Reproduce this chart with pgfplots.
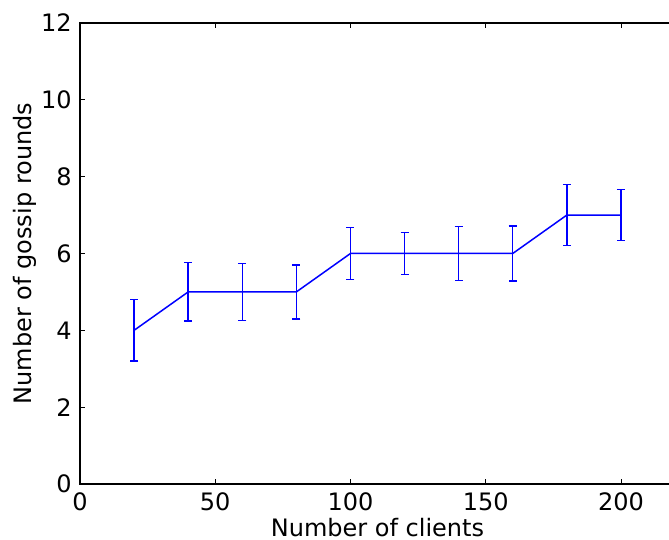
\documentclass[border=0pt]{standalone}
\usepackage{fontspec}
\setmainfont{DejaVu Sans}
\usepackage{pgfplots}
\pgfplotsset{compat=1.18}

\begin{document}
\fontsize{12}{14}\selectfont
\begin{tikzpicture}
\begin{axis}[
  name=main, at={(0,0)}, anchor=south west,
  scale only axis, width=297.5pt, height=230.5pt,
  xmin=0, xmax=220, ymin=0, ymax=12,
  xtick={0,50,100,150,200}, ytick={0,2,4,6,8,10,12},
  tick align=inside, major tick length=2.5pt,
  tick style={black, line width=0.4pt},
  axis line style={line width=0.6pt},
  /pgf/number format/assume math mode=true,
  tick label style={font=\fontsize{12}{14}\selectfont},
  label style={font=\fontsize{12}{14}\selectfont},
  xlabel={Number of clients}, ylabel={Number of gossip rounds},
  xlabel style={yshift=4.5pt}, ylabel style={yshift=-6pt},
]
\addplot[blue, line width=0.75pt, mark=none,
  error bars/.cd, y dir=both, y explicit,
  error bar style={blue, line width=0.75pt},
  error mark options={rotate=90, mark size=2pt, blue, line width=0.75pt}]
  coordinates {
  (20,4) +- (0,0.80)
  (40,5) +- (0,0.76)
  (60,5) +- (0,0.74)
  (80,5) +- (0,0.70)
  (100,6) +- (0,0.68)
  (120,6) +- (0,0.55)
  (140,6) +- (0,0.70)
  (160,6) +- (0,0.72)
  (180,7) +- (0,0.79)
  (200,7) +- (0,0.66)
  };
\end{axis}
\pgfresetboundingbox
\useasboundingbox (-40pt,-28pt) rectangle (294.5pt,242pt);
\end{tikzpicture}
\end{document}
